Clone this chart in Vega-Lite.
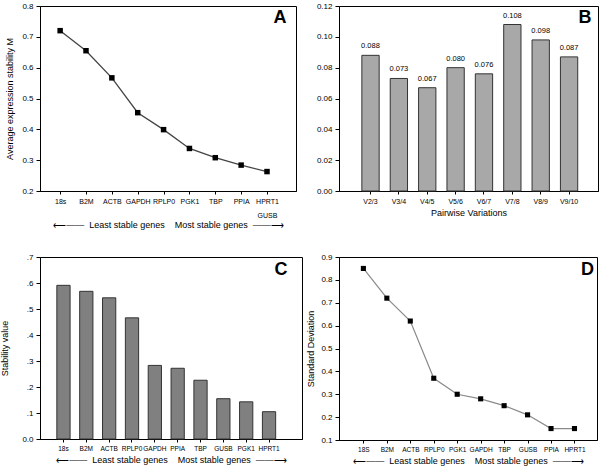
{
  "$schema": "https://vega.github.io/schema/vega-lite/v6.json",
  "padding": {"left": 0, "top": 1, "right": 0, "bottom": 0},
  "background": "white",
  "columns": 2,
  "spacing": {"row": 22, "column": 3},
  "config": {
    "view": {"stroke": "black", "strokeWidth": 1},
    "font": "Liberation Sans",
    "axis": {
      "domainColor": "black", "tickColor": "black", "labelColor": "black", "titleColor": "black",
      "labelFont": "Liberation Sans", "titleFont": "Liberation Sans",
      "labelFontSize": 8, "titleFontSize": 9, "titleFontWeight": "normal",
      "tickSize": 4, "labelPadding": 3, "grid": false
    },
    "axisX": {"tickSize": 3, "labelAngle": 0, "labelFontSize": 7}
  },
  "concat": [
    {
      "width": 256, "height": 185,
      "data": {"values": [
        {"gene": "18s", "M": 0.720},
        {"gene": "B2M", "M": 0.655},
        {"gene": "ACTB", "M": 0.567},
        {"gene": "GAPDH", "M": 0.454},
        {"gene": "RPLP0", "M": 0.399},
        {"gene": "PGK1", "M": 0.338},
        {"gene": "TBP", "M": 0.308},
        {"gene": "PPIA", "M": 0.284},
        {"gene": "HPRT1", "M": 0.263}
      ]},
      "encoding": {
        "x": {"field": "gene", "type": "nominal", "sort": null,
              "scale": {"type": "point", "padding": 0.95, "align": 0.41},
              "axis": {"title": "⟵——\u00a0\u00a0Least stable genes\u00a0\u00a0\u00a0\u00a0Most stable genes\u00a0\u00a0——⟶", "titlePadding": 2,
                       "labelExpr": "datum.value == 'HPRT1' ? ['HPRT1', 'GUSB'] : datum.label", "labelLineHeight": 14}},
        "y": {"field": "M", "type": "quantitative",
              "scale": {"domain": [0.2, 0.8], "nice": false, "zero": false},
              "axis": {"title": "Average expression stability M", "values": [0.2, 0.3, 0.4, 0.5, 0.6, 0.7, 0.8], "format": ".1f", "titlePadding": 7}}
      },
      "layer": [
        {"mark": {"type": "line", "color": "#444444", "strokeWidth": 1.3}},
        {"mark": {"type": "square", "size": 30, "color": "black", "opacity": 1, "filled": true}},
        {"transform": [{"filter": "datum.gene == 'HPRT1'"}],
         "mark": {"type": "text", "fontSize": 18, "fontWeight": "bold", "font": "Liberation Sans", "dx": 13, "color": "black"},
         "encoding": {"y": {"datum": 0.761}, "text": {"value": "A"}}}
      ]
    },
    {
      "width": 259, "height": 185,
      "data": {"values": [
        {"pair": "V2/3", "V": 0.088},
        {"pair": "V3/4", "V": 0.073},
        {"pair": "V4/5", "V": 0.067},
        {"pair": "V5/6", "V": 0.080},
        {"pair": "V6/7", "V": 0.076},
        {"pair": "V7/8", "V": 0.108},
        {"pair": "V8/9", "V": 0.098},
        {"pair": "V9/10", "V": 0.087}
      ]},
      "encoding": {
        "x": {"field": "pair", "type": "nominal", "sort": null,
              "scale": {"type": "band", "paddingInner": 0.39, "paddingOuter": 0.76, "align": 0.53},
              "axis": {"title": "Pairwise Variations", "titlePadding": 4}},
        "y": {"field": "V", "type": "quantitative",
              "scale": {"domain": [0, 0.12], "nice": false},
              "axis": {"title": null, "values": [0, 0.02, 0.04, 0.06, 0.08, 0.1, 0.12], "format": ".2f"}}
      },
      "layer": [
        {"mark": {"type": "bar", "fill": "#a8a8a8", "stroke": "#333333", "strokeWidth": 1}},
        {"mark": {"type": "text", "fontSize": 7.5, "dy": -9, "font": "Liberation Sans"},
         "encoding": {"text": {"field": "V", "type": "quantitative", "format": ".3f"}}},
        {"transform": [{"filter": "datum.pair == 'V9/10'"}],
         "mark": {"type": "text", "fontSize": 18, "fontWeight": "bold", "font": "Liberation Sans", "dx": 16, "color": "black"},
         "encoding": {"y": {"datum": 0.1122}, "text": {"value": "B"}}}
      ]
    },
    {
      "width": 262, "height": 182,
      "data": {"values": [
        {"gene": "18s", "S": 0.591},
        {"gene": "B2M", "S": 0.568},
        {"gene": "ACTB", "S": 0.543},
        {"gene": "RPLP0", "S": 0.466},
        {"gene": "GAPDH", "S": 0.283},
        {"gene": "PPIA", "S": 0.272},
        {"gene": "TBP", "S": 0.226},
        {"gene": "GUSB", "S": 0.155},
        {"gene": "PGK1", "S": 0.143},
        {"gene": "HPRT1", "S": 0.105}
      ]},
      "encoding": {
        "x": {"field": "gene", "type": "nominal", "sort": null,
              "scale": {"type": "band", "paddingInner": 0.42, "paddingOuter": 0.945, "align": 0.39},
              "axis": {"title": "⟵——\u00a0\u00a0Least stable genes\u00a0\u00a0\u00a0\u00a0Most stable genes\u00a0\u00a0——⟶", "titlePadding": 4, "labelFontSize": 6.5}},
        "y": {"field": "S", "type": "quantitative",
              "scale": {"domain": [0, 0.7], "nice": false},
              "axis": {"title": "Stability value", "values": [0, 0.1, 0.2, 0.3, 0.4, 0.5, 0.6, 0.7],
                       "labelExpr": "datum.value == 0 ? '0.0' : replace(format(datum.value, '.1f'), '0.', '.')", "titlePadding": 12}}
      },
      "layer": [
        {"mark": {"type": "bar", "fill": "#808080", "stroke": "#333333", "strokeWidth": 1}},
        {"transform": [{"filter": "datum.gene == 'HPRT1'"}],
         "mark": {"type": "text", "fontSize": 18, "fontWeight": "bold", "font": "Liberation Sans", "dx": 12, "color": "black"},
         "encoding": {"y": {"datum": 0.65}, "text": {"value": "C"}}}
      ]
    },
    {
      "width": 258, "height": 183,
      "data": {"values": [
        {"gene": "18S", "SD": 0.85},
        {"gene": "B2M", "SD": 0.72},
        {"gene": "ACTB", "SD": 0.62},
        {"gene": "RPLP0", "SD": 0.37},
        {"gene": "PGK1", "SD": 0.30},
        {"gene": "GAPDH", "SD": 0.28},
        {"gene": "TBP", "SD": 0.25},
        {"gene": "GUSB", "SD": 0.21},
        {"gene": "PPIA", "SD": 0.15},
        {"gene": "HPRT1", "SD": 0.15}
      ]},
      "encoding": {
        "x": {"field": "gene", "type": "nominal", "sort": null,
              "scale": {"type": "point", "padding": 1.08, "align": 0.52},
              "axis": {"title": "⟵——\u00a0\u00a0Least stable genes\u00a0\u00a0\u00a0\u00a0Most stable genes\u00a0\u00a0——⟶", "titlePadding": 4, "labelFontSize": 6.5}},
        "y": {"field": "SD", "type": "quantitative",
              "scale": {"domain": [0.1, 0.9], "nice": false, "zero": false},
              "axis": {"title": "Standard Deviation", "values": [0.1, 0.2, 0.3, 0.4, 0.5, 0.6, 0.7, 0.8, 0.9], "format": ".1f", "titlePadding": 5}}
      },
      "layer": [
        {"mark": {"type": "line", "color": "#8a8a8a", "strokeWidth": 1.2}},
        {"mark": {"type": "square", "size": 26, "color": "black", "opacity": 1, "filled": true}},
        {"transform": [{"filter": "datum.gene == 'HPRT1'"}],
         "mark": {"type": "text", "fontSize": 18, "fontWeight": "bold", "font": "Liberation Sans", "dx": 13, "color": "black"},
         "encoding": {"y": {"datum": 0.843}, "text": {"value": "D"}}}
      ]
    }
  ]
}
